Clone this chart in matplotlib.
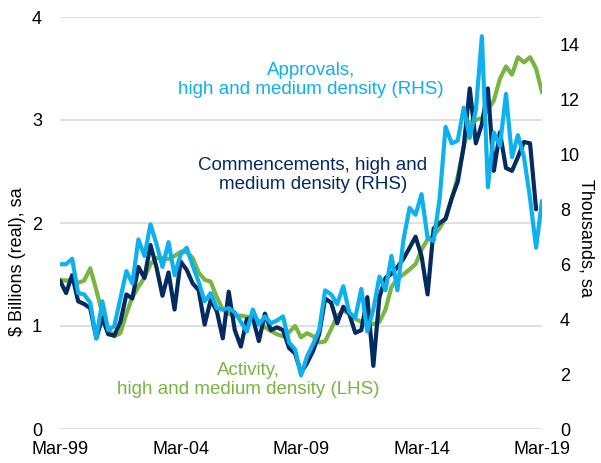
import numpy as np
import pandas as pd
import matplotlib
matplotlib.use('Agg')
import matplotlib.pyplot as plt
import matplotlib.dates as mdates

# ------------------------------------------------------------------
#  DATA  (quarterly, Mar-99 .. Mar-19)
# ------------------------------------------------------------------
quarters = pd.date_range('1999-03-01', periods=81, freq='QS-MAR')

# Activity, high and medium density ($b real, sa) - LHS
activity = [1.45, 1.44, 1.45, 1.42, 1.44, 1.56, 1.35, 1.12, 0.97, 0.90,
            0.93, 1.12, 1.28, 1.38, 1.47, 1.60, 1.66, 1.66, 1.65, 1.68,
            1.72, 1.72, 1.66, 1.52, 1.45, 1.43, 1.28, 1.16, 1.12, 1.10,
            1.10, 1.09, 1.08, 1.05, 0.99, 0.95, 0.92, 0.90, 0.94, 1.00,
            0.89, 0.93, 0.90, 0.84, 0.85, 0.97, 1.10, 1.15, 1.12, 1.07,
            1.04, 1.03, 1.02, 1.04, 1.16, 1.38, 1.46, 1.50, 1.55, 1.60,
            1.74, 1.84, 1.88, 1.95, 2.05, 2.23, 2.45, 2.74, 2.98, 3.00,
            3.02, 3.10, 3.19, 3.40, 3.52, 3.44, 3.61, 3.56, 3.61, 3.50,
            3.27]

# Commencements, high and medium density ('000, sa) - RHS (Mar-19 n/a)
commencements = [5.40, 4.95, 5.60, 4.65, 4.55, 4.40, 3.30, 4.05, 3.45, 3.40,
                 3.90, 4.90, 4.75, 5.90, 5.50, 6.70, 5.90, 4.85, 5.70, 4.35,
                 6.10, 5.80, 5.30, 5.05, 3.80, 4.70, 4.30, 3.30, 5.00, 3.60,
                 3.00, 4.00, 4.05, 3.20, 4.20, 3.60, 3.70, 3.60, 2.95, 2.75,
                 2.05, 2.40, 2.85, 3.45, 4.75, 4.60, 3.85, 4.45, 4.20, 3.50,
                 3.60, 4.80, 2.30, 4.80, 5.50, 5.65, 5.90, 6.20, 6.60, 7.00,
                 6.30, 4.90, 7.30, 7.50, 7.65, 8.40, 9.00, 10.30, 12.40, 10.40,
                 11.10, 12.40, 9.40, 10.80, 9.50, 9.40, 9.90, 10.45, 10.40, 8.00,
                 np.nan]

# Approvals, high and medium density ('000, sa) - RHS
approvals = [6.00, 6.00, 6.20, 4.95, 4.90, 4.60, 3.30, 4.65, 3.60, 3.75,
             4.75, 5.75, 5.30, 6.90, 6.30, 7.45, 6.75, 5.90, 6.80, 5.60,
             6.35, 6.60, 5.95, 5.35, 4.65, 4.95, 4.40, 4.35, 4.40, 4.25,
             3.90, 3.55, 4.35, 3.80, 4.10, 3.85, 3.95, 4.10, 3.15, 2.90,
             1.95, 2.65, 3.10, 3.60, 5.05, 4.90, 4.55, 5.20, 4.25, 4.05,
             5.10, 3.55, 4.35, 5.55, 5.05, 6.30, 5.05, 6.90, 8.05, 7.80,
             8.55, 6.95, 6.85, 8.40, 11.00, 10.40, 10.50, 11.70, 10.60, 11.60,
             14.30, 8.80, 10.80, 10.30, 12.20, 9.90, 10.70, 9.90, 8.40, 6.60,
             8.30]

x_ticks = ['1999-03-01', '2004-03-01', '2009-03-01', '2014-03-01', '2019-03-01']
lhs_ticks = [0, 1, 2, 3, 4]
rhs_ticks = [0, 2, 4, 6, 8, 10, 12, 14]

# ------------------------------------------------------------------
#  PLOT
# ------------------------------------------------------------------
GREEN = '#78b542'
NAVY = '#042a62'
LIGHT = '#0db1ee'
FS = 13
FS_TXT = 13.5

plt.rcParams['font.family'] = ['Liberation Sans', 'DejaVu Sans']

fig = plt.figure(figsize=(6.01, 4.63), dpi=100)
ax = fig.add_axes([60/601, 1 - 429/463, 482/601, 412/463])
ax2 = ax.twinx()

line_kw = dict(lw=3, solid_joinstyle='round', solid_capstyle='round')
ax.plot(quarters, activity, color=GREEN, zorder=3, **line_kw)
ax2.plot(quarters, commencements, color=NAVY, zorder=3, **line_kw)
ax2.plot(quarters, approvals, color=LIGHT, zorder=4, **line_kw)

ax.set_ylim(0, 4)
ax2.set_ylim(0, 15)
ax.set_yticks(lhs_ticks)
ax2.set_yticks(rhs_ticks)
ax.set_xlim(quarters[0], quarters[-1])
ax.set_xticks(pd.to_datetime(x_ticks))
ax.xaxis.set_major_formatter(mdates.DateFormatter('%b-%y'))

ax.grid(axis='y', color='#d9d9d9', lw=1.2)
ax.set_axisbelow(True)
for a in (ax, ax2):
    for s in a.spines.values():
        s.set_visible(False)
    a.tick_params(length=0, labelsize=FS, colors='black')
ax.tick_params(axis='y', pad=13)
ax.tick_params(axis='x', pad=9)
ax2.tick_params(axis='y', pad=13)

fig.text(18/601, 1 - 262/463, '$ Billions (real), sa', rotation=90,
         ha='center', va='center', fontsize=FS)
fig.text(586/601, 1 - 238/463, 'Thousands, sa', rotation=270,
         ha='center', va='center', fontsize=FS)

ax.text(0.521, 0.846, 'Approvals,\nhigh and medium density (RHS)', color=LIGHT,
        transform=ax.transAxes, ha='center', va='center', multialignment='center',
        fontsize=FS_TXT, linespacing=1.15)
ax.text(0.525, 0.617, 'Commencements, high and\nmedium density (RHS)', color=NAVY,
        transform=ax.transAxes, ha='center', va='center', multialignment='center',
        fontsize=FS_TXT, linespacing=1.15)
ax.text(0.390, 0.119, 'Activity,\nhigh and medium density (LHS)', color=GREEN,
        transform=ax.transAxes, ha='center', va='center', multialignment='center',
        fontsize=FS_TXT, linespacing=1.15)

fig.savefig('out.png', dpi=100)
